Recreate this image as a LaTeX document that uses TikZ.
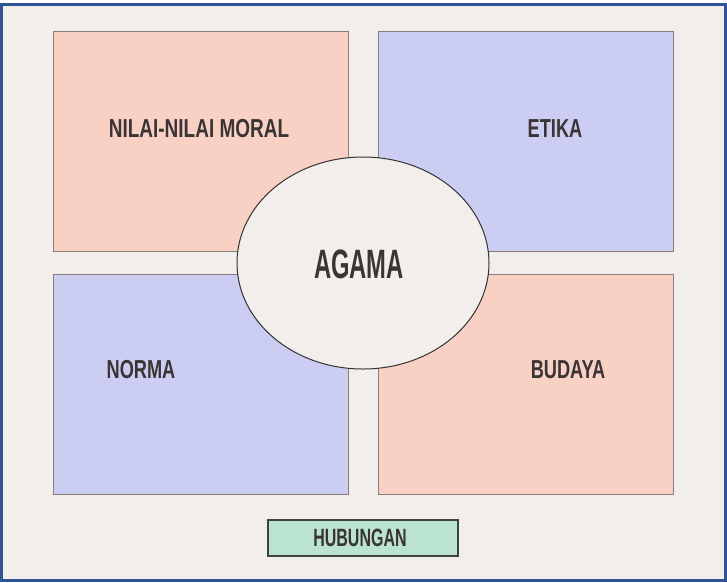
\documentclass[tikz,border=0pt]{standalone}
\usepackage{fontspec}
\setmainfont[FakeStretch=0.7]{Liberation Sans}
\newfontfamily\agamafont[FakeStretch=0.58]{Liberation Sans}
\newfontfamily\hubfont[FakeStretch=0.64]{Liberation Sans}
\newfontfamily\nilaifont[FakeStretch=0.73]{Liberation Sans}
\usetikzlibrary{shapes.geometric}
\definecolor{bgc}{HTML}{F1EEEC}
\definecolor{salmon}{HTML}{F9D1C4}
\definecolor{lav}{HTML}{CCCDF3}
\definecolor{mint}{HTML}{BAE4D1}
\definecolor{framec}{HTML}{2E5496}
\definecolor{boxline}{HTML}{8C7C78}
\definecolor{txt}{HTML}{3B3434}
\tikzset{
  quad/.style={rectangle, draw=boxline, line width=1pt, minimum width=295pt, minimum height=220pt, inner sep=0pt},
  lbl/.style={inner sep=0pt, text=txt, font=\fontsize{26}{26}\selectfont\bfseries},
}
\begin{document}
\begin{tikzpicture}[x=1pt,y=-1pt]
\useasboundingbox (0,0) rectangle (727,582);
\fill[white] (0,0) rectangle (727,582);
\draw[framec, line width=3pt, fill=bgc] (1.5,4.5) rectangle (725.5,580.5);
\node[quad, fill=salmon] (nilaibox) at (200.5,141) {};
\node[quad, fill=lav] (etikabox) at (526,141) {};
\node[quad, fill=lav] (normabox) at (200.5,384) {};
\node[quad, fill=salmon] (budayabox) at (526,384) {};
\node[lbl, font=\nilaifont\fontsize{26}{26}\selectfont\bfseries] (nilai) at (199,129) {NILAI-NILAI MORAL};
\node[lbl] (etika) at (555,129) {ETIKA};
\node[lbl] (norma) at (141,370) {NORMA};
\node[lbl] (budaya) at (568,370) {BUDAYA};
\node[ellipse, draw=black!80, line width=1pt, fill=bgc, minimum width=252pt, minimum height=212pt, inner sep=0pt] (agamabox) at (363,263) {};
\node[inner sep=0pt, text=txt, font=\agamafont\fontsize{41}{41}\selectfont\bfseries] (agama) at (359,264) {AGAMA};
\node[rectangle, draw=black!75, line width=1.3pt, fill=mint, minimum width=190pt, minimum height=36pt, inner sep=0pt] (hubunganbox) at (363,538) {};
\node[inner sep=0pt, text=txt, font=\hubfont\fontsize{25}{25}\selectfont\bfseries] (hubungan) at (360,538) {HUBUNGAN};
\end{tikzpicture}
\end{document}
